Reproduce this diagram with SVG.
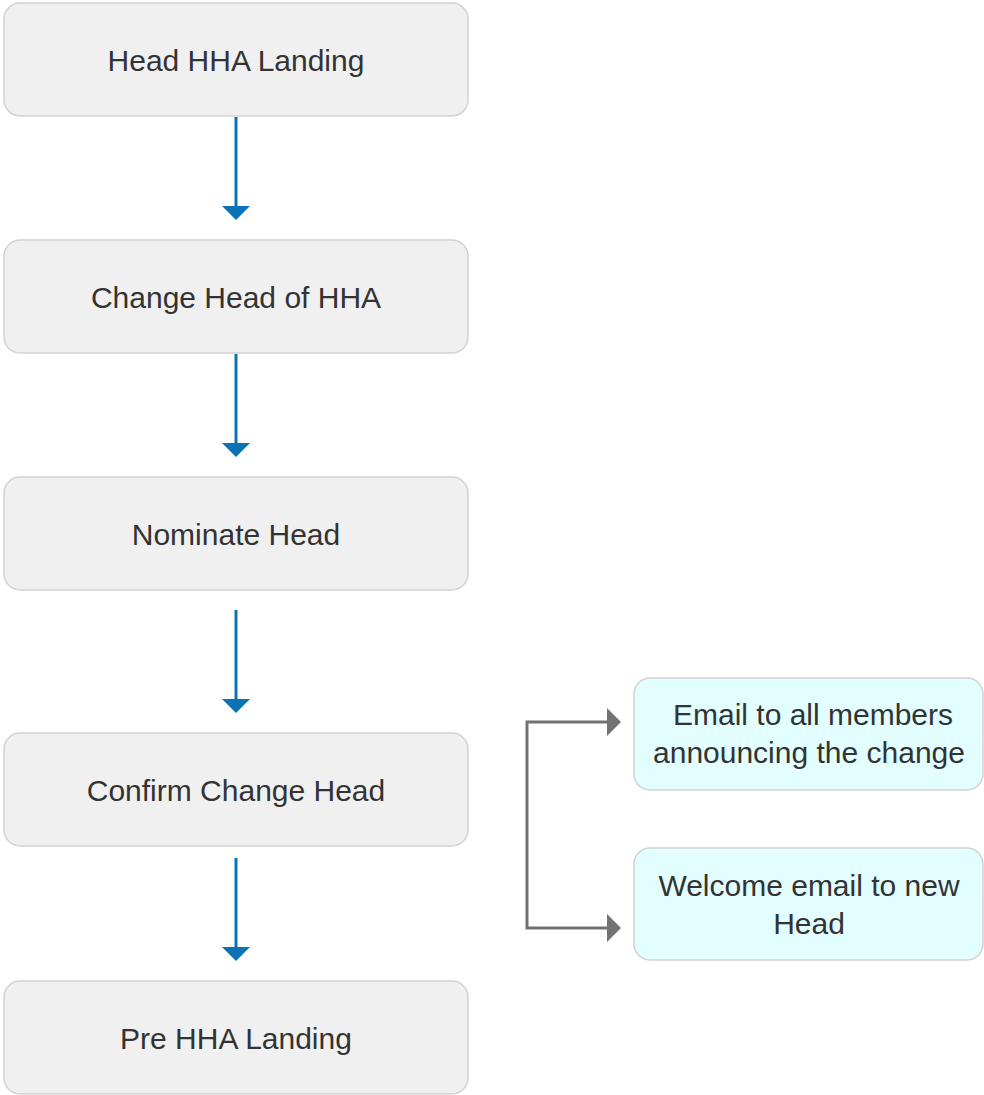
<svg xmlns="http://www.w3.org/2000/svg" width="984" height="1095" viewBox="0 0 984 1095">
  <style>
    .step rect { fill: #f0f0f0; stroke: #d2d2d2; stroke-width: 1.5; }
    .mail rect { fill: #e2feff; stroke: #d2d2d2; stroke-width: 1.5; }
    text { font-family: "Liberation Sans", Arial, sans-serif; font-size: 30px; fill: #333333; text-anchor: middle; }
    .flow { stroke: #0a72b5; stroke-width: 3; fill: none; }
    .notify { stroke: #727272; stroke-width: 3; fill: none; }
  </style>
  <defs>
    <marker id="blueHead" viewBox="0 0 28 14" refX="14" refY="13" markerWidth="28" markerHeight="14" markerUnits="userSpaceOnUse" orient="auto-start-reverse">
      <path d="M0 0 L28 0 L14 14 Z" fill="#0a72b5"/>
    </marker>
    <marker id="grayHead" viewBox="0 0 14 28" refX="13" refY="14" markerWidth="14" markerHeight="28" markerUnits="userSpaceOnUse" orient="0">
      <path d="M0 0 L14 14 L0 28 Z" fill="#727272"/>
    </marker>
  </defs>

  <g id="connectors">
    <line class="flow" x1="236" y1="117" x2="236" y2="207"/>
    <path d="M222 206 L250 206 L236 220 Z" fill="#0a72b5"/>
    <line class="flow" x1="236" y1="354" x2="236" y2="444"/>
    <path d="M222 443 L250 443 L236 457 Z" fill="#0a72b5"/>
    <line class="flow" x1="236" y1="610" x2="236" y2="700"/>
    <path d="M222 699 L250 699 L236 713 Z" fill="#0a72b5"/>
    <line class="flow" x1="236" y1="858" x2="236" y2="948"/>
    <path d="M222 947 L250 947 L236 961 Z" fill="#0a72b5"/>

    <path class="notify" d="M608 722 L527 722 L527 928 L608 928"/>
    <path d="M607 708 L621 722 L607 736 Z" fill="#727272"/>
    <path d="M607 914 L621 928 L607 942 Z" fill="#727272"/>
  </g>

  <g id="head-hha-landing" class="step">
    <rect x="4" y="3" width="464" height="113" rx="16"/>
    <text x="236" y="71">Head HHA Landing</text>
  </g>
  <g id="change-head" class="step">
    <rect x="4" y="240" width="464" height="113" rx="16"/>
    <text x="236" y="308">Change Head of HHA</text>
  </g>
  <g id="nominate-head" class="step">
    <rect x="4" y="477" width="464" height="113" rx="16"/>
    <text x="236" y="545">Nominate Head</text>
  </g>
  <g id="confirm-change-head" class="step">
    <rect x="4" y="733" width="464" height="113" rx="16"/>
    <text x="236" y="801">Confirm Change Head</text>
  </g>
  <g id="pre-hha-landing" class="step">
    <rect x="4" y="981" width="464" height="113" rx="16"/>
    <text x="236" y="1049">Pre HHA Landing</text>
  </g>

  <g id="email-all-members" class="mail">
    <rect x="634" y="678" width="349" height="112" rx="16"/>
    <text x="813" y="725">Email to all members</text>
    <text x="809" y="763">announcing the change</text>
  </g>
  <g id="welcome-email" class="mail">
    <rect x="634" y="848" width="349" height="112" rx="16"/>
    <text x="809" y="896">Welcome email to new</text>
    <text x="809" y="934">Head</text>
  </g>
</svg>
